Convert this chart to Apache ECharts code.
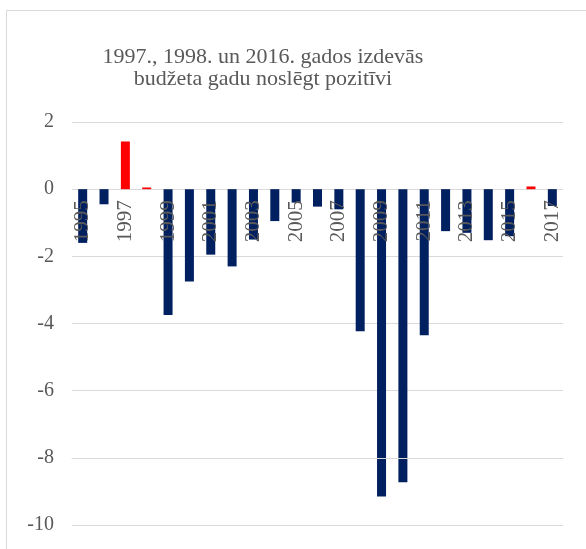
<!DOCTYPE html>
<html>
<head>
<meta charset="utf-8">
<title>Budžeta bilance</title>
<script src="https://cdn.jsdelivr.net/npm/echarts@6/dist/echarts.min.js"></script>
<style>
  html, body { margin: 0; padding: 0; background: #fff; }
  #chart { width: 586px; height: 549px; }
</style>
</head>
<body>
<div id="chart"></div>
<script>
// gadi (x ass)
const years = ['1995', '1996', '1997', '1998', '1999', '2000', '2001', '2002', '2003', '2004', '2005', '2006',
  '2007', '2008', '2009', '2010', '2011', '2012', '2013', '2014', '2015', '2016', '2017']
// budžeta bilance
const balance = [-1.6, -0.45, 1.42, 0.05, -3.75, -2.75, -1.95, -2.3, -1.5, -0.95, -0.4, -0.52,
  -0.6, -4.23, -9.15, -8.73, -4.35, -1.25, -1.3, -1.52, -1.4, 0.08, -0.5]
// y ass
const yMin = -10
const yMax = 2
const yStep = 2

const titleText = '1997., 1998. un 2016. gados izdevās\nbudžeta gadu noslēgt pozitīvi'

const serif = "'Liberation Serif', 'Times New Roman', serif"
const textGray = '#595959'
const lineGray = '#d9d9d9'

const chartHeight = 549
const gridBottom = 24

const chart = echarts.init(document.getElementById('chart'))

// pozitīvie gadi sarkanā krāsā
const barData = balance.map(v => {
  return {
    value: v,
    itemStyle: { color: v > 0 ? '#ff0000' : '#002060' }
  }
})

const option = {
  backgroundColor: '#fff',
  animation: false,
  graphic: [
    {
      // diagrammas rāmis
      type: 'rect',
      shape: { x: 6.5, y: 10.5, width: 700, height: 700 },
      style: { fill: 'none', stroke: lineGray, lineWidth: 1 },
      silent: true
    },
    {
      type: 'text',
      x: 263,
      y: 46,
      style: {
        text: titleText,
        align: 'center',
        verticalAlign: 'top',
        font: '22px ' + serif,
        lineHeight: 22,
        fill: textGray
      }
    }
  ],
  grid: {
    left: 72,
    right: 23,
    top: 122,
    bottom: gridBottom,
    outerBoundsMode: 'none',
    containLabel: false
  },
  xAxis: {
    type: 'category',
    data: years,
    boundaryGap: true,
    z: 5, // gadu etiķetes virs stabiņiem
    axisLine: { onZero: true, lineStyle: { color: lineGray, width: 1 } },
    axisTick: { show: false },
    axisLabel: {
      interval: 1,
      rotate: 90,
      margin: 11,
      color: textGray,
      fontFamily: serif,
      fontSize: 21
    }
  },
  yAxis: {
    type: 'value',
    min: yMin,
    max: yMax,
    interval: yStep,
    axisLine: { show: false },
    axisTick: { show: false },
    splitLine: { lineStyle: { color: lineGray, width: 1 } },
    axisLabel: {
      margin: 18,
      color: textGray,
      fontFamily: serif,
      fontSize: 20
    }
  },
  series: [
    {
      type: 'bar',
      data: barData,
      barWidth: 9
    }
  ]
}

chart.setOption(option)

// x ass uz nulles līnijas: nobīde aprēķināta ar y ass skalu
const zeroY = chart.convertToPixel({ yAxisIndex: 0 }, 0)
const axisBottomY = chartHeight - gridBottom
if (Math.abs(axisBottomY - zeroY) > 1) {
  chart.setOption({ xAxis: { offset: zeroY - axisBottomY } })
}
</script>
</body>
</html>
